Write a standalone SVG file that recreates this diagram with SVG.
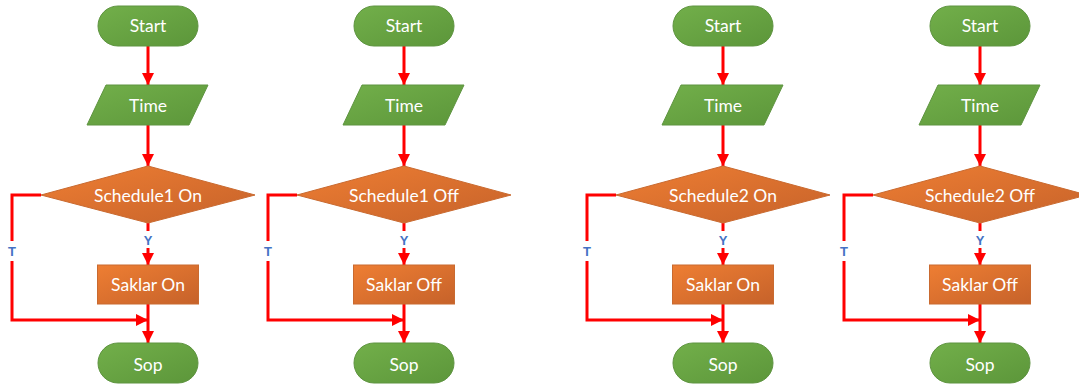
<svg xmlns="http://www.w3.org/2000/svg" width="1079" height="386" viewBox="0 0 1079 386">
<defs>
<linearGradient id="gG" x1="0" y1="0" x2="1" y2="1"><stop offset="0" stop-color="#72AF4A"/><stop offset="1" stop-color="#5C963A"/></linearGradient>
<linearGradient id="gO" x1="0" y1="0" x2="1" y2="1"><stop offset="0" stop-color="#EE7E33"/><stop offset="1" stop-color="#C6622A"/></linearGradient>
<marker id="ah" markerUnits="userSpaceOnUse" markerWidth="12" markerHeight="12" refX="12" refY="6" orient="auto" viewBox="0 0 12 12"><path d="M0,0 L12,6 L0,12 z" fill="#FF0000"/></marker>
<style>
.g{fill:url(#gG);stroke:#5E9440;stroke-width:1}
.o{fill:url(#gO);stroke:#C96A30;stroke-width:1}
.t{font-family:Lato,"Liberation Sans",sans-serif;font-size:17.5px;fill:#FFFFFF;text-anchor:middle}
.c{fill:none;stroke:#FF0000;stroke-width:3}
.a{marker-end:url(#ah)}
.lb{font-family:"Liberation Sans",Arial,sans-serif;font-size:13px;font-weight:bold;fill:#4472C4;text-anchor:middle}
.bg{fill:#FFFFFF}
</style>
</defs>
<g id="connectors">
<line class="c a" x1="148" y1="46" x2="148" y2="85"/>
<line class="c a" x1="148" y1="125" x2="148" y2="166"/>
<line class="c a" x1="148" y1="223" x2="148" y2="265"/>
<polyline class="c a" points="41,195 12,195 12,320 148,320"/>
<line class="c a" x1="148" y1="304" x2="148" y2="343"/>
<rect class="bg" x="141" y="231" width="14" height="17"/><text class="lb" x="148" y="245">Y</text>
<rect class="bg" x="5" y="241" width="14" height="20"/><text class="lb" x="12" y="256">T</text>

<line class="c a" x1="404" y1="46" x2="404" y2="85"/>
<line class="c a" x1="404" y1="125" x2="404" y2="166"/>
<line class="c a" x1="404" y1="223" x2="404" y2="265"/>
<polyline class="c a" points="297,195 268,195 268,320 404,320"/>
<line class="c a" x1="404" y1="304" x2="404" y2="343"/>
<rect class="bg" x="397" y="231" width="14" height="17"/><text class="lb" x="404" y="245">Y</text>
<rect class="bg" x="261" y="241" width="14" height="20"/><text class="lb" x="268" y="256">T</text>

<line class="c a" x1="723" y1="46" x2="723" y2="85"/>
<line class="c a" x1="723" y1="125" x2="723" y2="166"/>
<line class="c a" x1="723" y1="223" x2="723" y2="265"/>
<polyline class="c a" points="616,195 587,195 587,320 723,320"/>
<line class="c a" x1="723" y1="304" x2="723" y2="343"/>
<rect class="bg" x="716" y="231" width="14" height="17"/><text class="lb" x="723" y="245">Y</text>
<rect class="bg" x="580" y="241" width="14" height="20"/><text class="lb" x="587" y="256">T</text>

<line class="c a" x1="980" y1="46" x2="980" y2="85"/>
<line class="c a" x1="980" y1="125" x2="980" y2="166"/>
<line class="c a" x1="980" y1="223" x2="980" y2="265"/>
<polyline class="c a" points="873,195 844,195 844,320 980,320"/>
<line class="c a" x1="980" y1="304" x2="980" y2="343"/>
<rect class="bg" x="973" y="231" width="14" height="17"/><text class="lb" x="980" y="245">Y</text>
<rect class="bg" x="837" y="241" width="14" height="20"/><text class="lb" x="844" y="256">T</text>
</g>

<g id="start1"><rect class="g" x="98" y="6" width="100" height="40" rx="20"/><text class="t" x="148" y="32">Start</text></g>
<g id="time1"><polygon class="g" points="106,85 208,85 189,125 87,125"/><text class="t" x="148" y="112">Time</text></g>
<g id="dec1"><polygon class="o" points="148,166 255,195 148,223 41,195"/><text class="t" x="148" y="202">Schedule1 On</text></g>
<g id="proc1"><rect class="o" x="97.5" y="265" width="101" height="39"/><text class="t" x="148" y="291">Saklar On</text></g>
<g id="stop1"><rect class="g" x="98" y="343" width="100" height="40" rx="20"/><text class="t" x="148" y="371">Sop</text></g>

<g id="start2"><rect class="g" x="354" y="6" width="100" height="40" rx="20"/><text class="t" x="404" y="32">Start</text></g>
<g id="time2"><polygon class="g" points="362,85 464,85 445,125 343,125"/><text class="t" x="404" y="112">Time</text></g>
<g id="dec2"><polygon class="o" points="404,166 511,195 404,223 297,195"/><text class="t" x="404" y="202">Schedule1 Off</text></g>
<g id="proc2"><rect class="o" x="353.5" y="265" width="101" height="39"/><text class="t" x="404" y="291">Saklar Off</text></g>
<g id="stop2"><rect class="g" x="354" y="343" width="100" height="40" rx="20"/><text class="t" x="404" y="371">Sop</text></g>

<g id="start3"><rect class="g" x="673" y="6" width="100" height="40" rx="20"/><text class="t" x="723" y="32">Start</text></g>
<g id="time3"><polygon class="g" points="681,85 783,85 764,125 662,125"/><text class="t" x="723" y="112">Time</text></g>
<g id="dec3"><polygon class="o" points="723,166 830,195 723,223 616,195"/><text class="t" x="723" y="202">Schedule2 On</text></g>
<g id="proc3"><rect class="o" x="672.5" y="265" width="101" height="39"/><text class="t" x="723" y="291">Saklar On</text></g>
<g id="stop3"><rect class="g" x="673" y="343" width="100" height="40" rx="20"/><text class="t" x="723" y="371">Sop</text></g>

<g id="start4"><rect class="g" x="930" y="6" width="100" height="40" rx="20"/><text class="t" x="980" y="32">Start</text></g>
<g id="time4"><polygon class="g" points="938,85 1040,85 1021,125 919,125"/><text class="t" x="980" y="112">Time</text></g>
<g id="dec4"><polygon class="o" points="980,166 1087,195 980,223 873,195"/><text class="t" x="980" y="202">Schedule2 Off</text></g>
<g id="proc4"><rect class="o" x="929.5" y="265" width="101" height="39"/><text class="t" x="980" y="291">Saklar Off</text></g>
<g id="stop4"><rect class="g" x="930" y="343" width="100" height="40" rx="20"/><text class="t" x="980" y="371">Sop</text></g>
</svg>
